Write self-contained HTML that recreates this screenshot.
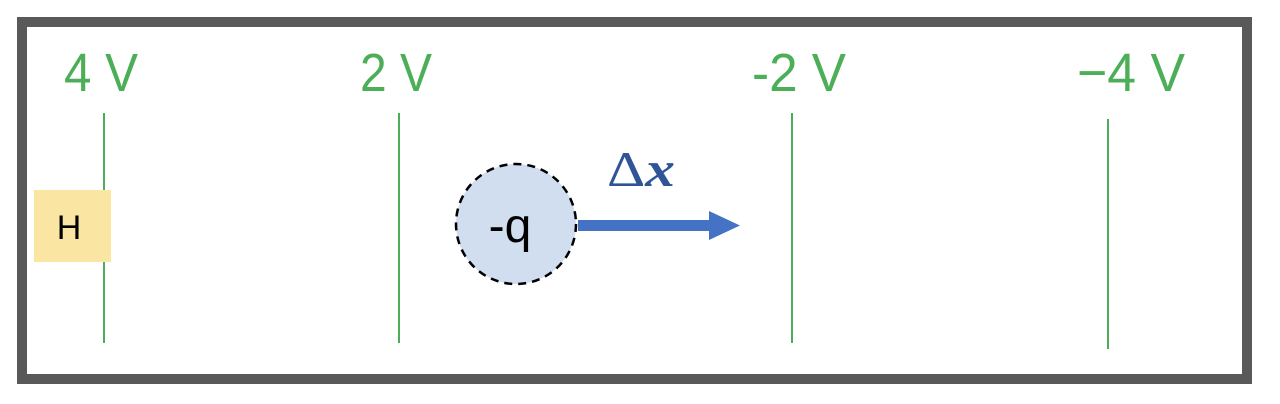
<!DOCTYPE html>
<html><head><meta charset="utf-8"><style>
html,body{margin:0;padding:0;background:#fff;}
svg{display:block;}
</style></head><body>
<svg width="1280" height="404" viewBox="0 0 1280 404" xmlns="http://www.w3.org/2000/svg">
<rect x="22" y="22" width="1225" height="357" fill="#fff" stroke="#595959" stroke-width="10"/>
<g font-family="Liberation Sans, sans-serif" font-size="54" fill="#4CAF58">
<text x="64" y="91" textLength="74" lengthAdjust="spacingAndGlyphs">4 V</text>
<text x="360" y="91" textLength="72" lengthAdjust="spacingAndGlyphs">2 V</text>
<text x="752" y="91" textLength="94" lengthAdjust="spacingAndGlyphs">-2 V</text>
<text x="1077" y="91" textLength="108" lengthAdjust="spacingAndGlyphs">−4 V</text>
</g>
<g stroke="#4CAF58" stroke-width="2">
<line x1="104" y1="113" x2="104" y2="343"/>
<line x1="399" y1="113" x2="399" y2="343"/>
<line x1="792" y1="113" x2="792" y2="343"/>
<line x1="1108" y1="119" x2="1108" y2="349"/>
</g>
<rect x="34" y="190" width="77" height="72" fill="#FBE5A2"/>
<text x="69" y="239" font-family="Liberation Sans, sans-serif" font-size="34" text-anchor="middle" fill="#000">H</text>
<circle cx="516" cy="224" r="60" fill="#D0DEEF" stroke="#000" stroke-width="2.5" stroke-dasharray="8,6"/>
<text x="510" y="242" font-family="Liberation Sans, sans-serif" font-size="48" text-anchor="middle" fill="#000">-q</text>
<rect x="578" y="220" width="133" height="11" fill="#4472C4"/>
<polygon points="709,211 740,225.5 709,240" fill="#4472C4"/>
<text x="607" y="186" font-family="Liberation Serif, serif" font-size="50" fill="#2F5597" textLength="68" lengthAdjust="spacingAndGlyphs">Δ<tspan font-weight="bold" font-style="italic">x</tspan></text>
</svg>
</body></html>
